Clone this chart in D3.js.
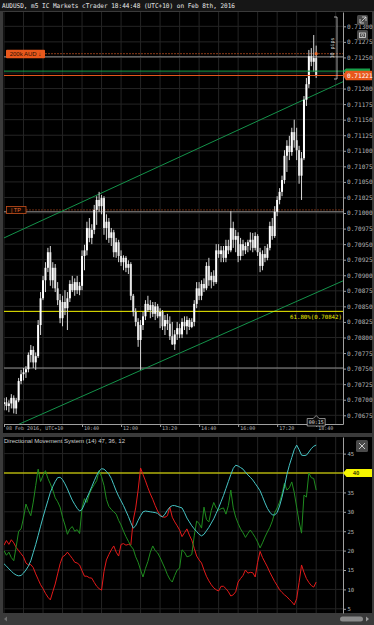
<!DOCTYPE html>
<html>
<head>
<meta charset="utf-8">
<script src="https://cdnjs.cloudflare.com/ajax/libs/d3/7.8.5/d3.min.js"></script>
<style>
  body { margin: 0; background: #3a3a3a; }
  svg { display: block; }
  .mono { font-family: "DejaVu Sans Mono", monospace; }
  .sans { font-family: "Liberation Sans", Arial, sans-serif; }
</style>
</head>
<body>
<script>
// AUDUSD m5 candles, prices in points (1e-5)
var candleOpen = [70693,70696,70690,70694,70703,70686,70699,70730,70741,70744,
  70749,70772,70780,70760,70770,70820,70863,70892,70912,70937,
  70892,70912,70879,70860,70831,70857,70847,70863,70886,70876,
  70889,70876,70883,70931,70940,70976,70960,70973,71005,71021,
  71011,71024,70976,70986,70960,70969,70937,70953,70931,70921,
  70928,70912,70918,70867,70841,70825,70796,70820,70834,70854,
  70844,70852,70838,70850,70834,70841,70818,70828,
  70822,70802,70789,70805,70815,70805,70825,70818,70828,70817,70825,70854,70879,70867,70886,
  70879,70915,70892,70899,70889,70940,70934,70940,70928,70947,
  70940,70976,70957,70963,70931,70950,70940,70947,70953,70957,
  70944,70963,70937,70915,70934,70928,70944,70979,70963,71002,
  71021,71034,71053,71092,71108,71098,71130,71117,71101,71060,
  71088,71182,71207,71252,71243,71249];
var candleHigh = [70703,70704,70699,70709,70707,70703,70735,70748,70751,70754,
  70776,70788,70786,70776,70828,70873,70899,70921,70944,70947,
  70921,70918,70889,70870,70867,70876,70873,70892,70899,70895,
  70899,70889,70940,70949,70986,70992,70982,71013,71027,71034,
  71029,71027,70998,70992,70976,70973,70960,70957,70940,70932,
  70931,70924,70921,70870,70847,70831,70828,70841,70860,70867,
  70860,70857,70857,70854,70847,70844,70836,70838,
  70834,70825,70812,70825,70822,70831,70834,70834,70831,70831,70860,70889,70889,70892,70895,
  70921,70928,70905,70908,70950,70950,70947,70947,70957,70957,
  71003,70986,70973,70969,70960,70957,70953,70957,70969,70968,
  70969,70966,70944,70940,70947,70950,70986,70992,71011,71027,
  71040,71060,71101,71117,71124,71137,71150,71137,71108,71098,
  71188,71217,71262,71265,71286,71269];
var candleLow = [70683,70683,70680,70686,70678,70677,70696,70725,70731,70735,
  70744,70760,70751,70748,70767,70804,70860,70873,70905,70883,
  70879,70873,70852,70823,70818,70836,70812,70857,70873,70867,
  70870,70868,70876,70908,70932,70953,70950,70966,70981,71002,
  70998,70965,70957,70952,70947,70929,70928,70921,70915,70908,
  70905,70902,70860,70834,70818,70785,70748,70812,70828,70841,
  70831,70833,70828,70831,70815,70812,70804,70812,
  70796,70788,70780,70796,70799,70799,70812,70805,70812,70815,70818,70847,70860,70860,70873,
  70876,70883,70879,70883,70886,70928,70921,70921,70921,70934,
  70937,70944,70937,70921,70924,70931,70934,70937,70940,70937,
  70940,70931,70905,70908,70921,70924,70940,70957,70960,70995,
  71014,71027,71047,71066,71085,71092,71105,71085,71047,71021,
  71085,71172,71201,71236,71227,71217];
var candleClose = [70696,70690,70694,70703,70686,70699,70730,70741,70744,70749,
  70772,70780,70760,70770,70820,70863,70892,70912,70937,70892,
  70912,70879,70860,70831,70857,70847,70863,70886,70876,70889,
  70876,70883,70931,70940,70976,70960,70973,71005,71021,71011,
  71024,70976,70986,70960,70969,70937,70953,70931,70921,70928,
  70912,70918,70867,70841,70825,70796,70820,70834,70854,70844,
  70852,70838,70850,70834,70841,70818,70828,70822,
  70802,70789,70805,70815,70805,70825,70818,70828,70817,70825,70854,70879,70867,70886,70879,
  70915,70892,70899,70889,70940,70934,70940,70928,70947,70940,
  70976,70957,70963,70931,70950,70940,70947,70953,70957,70944,
  70963,70937,70915,70934,70928,70944,70979,70963,71002,71021,
  71034,71053,71092,71108,71098,71130,71117,71101,71060,71088,
  71182,71207,71252,71243,71249,71221];

// Directional Movement System (14)
var adx = [16.6,16.0,15.3,14.7,14.1,13.7,13.5,13.6,14.2,15.0,
  16.0,17.4,19.5,21.6,23.9,26.3,28.6,30.8,32.9,35.0,
  36.5,37.8,38.8,38.9,38.3,37.2,35.9,34.4,33.0,31.9,
  30.9,30.2,30.6,32.0,33.6,35.0,36.5,38.0,39.4,40.5,
  41.1,41.0,40.4,39.7,38.6,37.0,35.4,34.0,32.8,31.6,
  30.2,28.8,27.2,25.8,26.4,27.8,29.0,30.0,30.2,30.1,
  30.0,29.9,29.8,29.6,29.0,28.7,29.4,30.4,31.2,31.6,
  31.6,31.4,31.2,31.0,29.8,28.4,27.4,26.4,25.6,24.9,
  24.2,23.8,24.2,25.1,26.0,27.1,28.2,29.6,31.0,32.6,
  34.2,36.0,37.8,39.6,41.2,42.0,41.8,41.4,41.0,40.2,
  39.5,38.9,38.2,37.3,36.4,35.4,33.9,32.3,30.9,29.9,
  29.2,29.2,29.8,31.5,33.8,36.5,39.6,42.0,44.0,46.0,
  47.2,46.0,44.6,44.5,44.6,45.4,46.3,46.9,47.2];
var plusDI = [20.0,18.8,19.6,18.2,17.4,21.0,25.0,25.6,28.4,32.0,
  30.4,29.0,32.5,36.8,41.0,37.8,39.4,40.6,38.6,37.2,
  35.6,33.6,32.6,31.2,28.6,26.6,24.2,25.6,26.2,25.0,
  25.4,24.4,31.0,33.4,32.4,34.6,36.0,37.0,38.0,40.6,
  39.0,36.8,33.2,31.4,30.6,30.0,29.4,27.8,26.6,25.0,
  23.6,22.4,21.2,20.4,18.4,17.0,15.0,13.2,15.4,17.2,
  19.6,21.2,20.0,19.4,18.2,16.8,15.4,13.8,12.6,11.9,
  13.6,15.0,15.5,20.2,19.6,18.4,18.6,19.0,23.8,27.6,
  27.0,25.8,31.2,28.0,27.4,30.4,32.4,31.0,30.4,30.8,
  31.0,29.4,31.6,35.6,31.0,28.6,27.0,25.6,24.6,23.4,
  24.4,25.3,24.4,23.4,22.2,20.7,22.0,23.5,24.8,26.0,
  27.6,29.8,31.0,32.5,34.6,37.4,35.6,36.2,37.7,35.0,
  31.2,27.4,24.5,34.3,33.8,40.0,38.8,38.6,35.6];
var minusDI = [21.4,22.6,21.6,22.8,22.0,20.8,20.0,19.2,18.4,16.8,
  16.3,16.4,15.6,14.0,12.6,11.2,10.2,9.0,8.0,7.3,
  9.4,11.4,14.0,16.6,18.4,18.8,19.6,18.8,18.0,17.0,
  16.8,16.3,14.8,13.4,13.4,13.0,12.9,11.8,10.8,10.2,
  9.8,14.6,17.6,19.0,20.2,21.2,19.6,18.6,21.6,21.8,
  21.4,21.6,21.4,27.9,31.0,35.6,41.3,39.6,38.0,36.2,
  34.6,33.2,31.6,30.2,29.2,28.7,28.6,29.0,31.2,28.6,
  27.4,26.4,25.3,23.6,24.6,25.6,24.0,22.7,20.6,18.6,
  17.6,16.8,15.0,13.4,12.2,11.2,10.4,9.9,9.6,10.8,
  10.8,10.2,9.4,8.3,8.6,9.4,11.9,12.8,13.6,15.0,
  14.2,14.4,14.3,13.2,17.0,19.8,18.2,17.0,15.8,14.4,
  13.2,12.0,11.0,9.9,9.2,8.6,8.1,7.4,6.8,6.0,
  7.6,11.8,16.3,14.4,12.8,11.8,11.0,10.6,11.9];

var timeTicks = ["08:00","10:40","12:00","13:20","14:40","16:00","17:20","18:40"];
var timeTickLabels = ["08 Feb 2016, UTC+10","10:40","12:00","13:20","14:40","16:00","17:20","18:40"];
var priceTicks = [0.70675,0.70700,0.70725,0.70750,0.70775,0.70800,0.70825,0.70850,0.70875,0.70900,
  0.70925,0.70950,0.70975,0.71000,0.71025,0.71050,0.71075,0.71100,0.71125,0.71150,
  0.71175,0.71200,0.71225,0.71250,0.71275,0.71300];
var dmiTicks = [5,10,15,20,25,30,35,40,45];

var bidPrice = 0.71221, askPrice = 0.71228;
var orderPrice = 0.71256, entryPrice = 0.71251;
var tpPrice = 0.71005, tpLine = 0.71002;
var hLine = 0.70751;
var fibPrice = 0.70842, fibLabel = "61.80%(0.70842)";
var dmiLevel = 40;
// trend channel, [time, price]
var channelUpper = [["08:00", 0.70960], ["19:35", 0.71211]];
var channelLower = [["08:00", 0.70650], ["19:35", 0.70891]];

var W = 374, H = 625;
var parseT = d3.timeParse("%Y-%m-%d %H:%M");
function tm(s) { return parseT("2016-02-08 " + s); }
var t0 = tm("08:00");

var candles = candleOpen.map(function(o, i) {
  return { t: d3.timeMinute.offset(t0, 5 * i), o: o / 1e5, h: candleHigh[i] / 1e5,
           l: candleLow[i] / 1e5, c: candleClose[i] / 1e5,
           adx: adx[i], pdi: plusDI[i], mdi: minusDI[i] };
});

var x = d3.scaleTime().domain([t0, tm("19:35")]).range([4, 343]);
var y = d3.scaleLinear().domain([0.70661, 0.71323]).range([424, 12]);
var yd = d3.scaleLinear().domain([3.92, 49.28]).range([613, 437]);

var svg = d3.select("body").append("svg").attr("width", W).attr("height", H);

// frame
svg.append("rect").attr("width", W).attr("height", H).attr("fill", "#3a3a3a");
svg.append("rect").attr("width", W).attr("height", 11).attr("fill", "#161616");
svg.append("rect").attr("x", 3).attr("y", 12).attr("width", 369).attr("height", 421).attr("fill", "#000");
svg.append("rect").attr("x", 3).attr("y", 437).attr("width", 369).attr("height", 176).attr("fill", "#000");

svg.append("text").attr("class", "mono").attr("x", 2).attr("y", 8.3)
  .attr("font-size", "6.4px").attr("fill", "#e6e6e6")
  .attr("textLength", 233).attr("lengthAdjust", "spacingAndGlyphs")
  .text("AUDUSD, m5 IC Markets cTrader 18:44:48 (UTC+10) on Feb 8th, 2016");

var defs = svg.append("defs");
defs.append("clipPath").attr("id", "clipMain").append("rect")
  .attr("x", 4).attr("y", 12).attr("width", 339).attr("height", 412);
defs.append("clipPath").attr("id", "clipDmi").append("rect")
  .attr("x", 4).attr("y", 437).attr("width", 339).attr("height", 176);

var gridTimes = d3.range(0, 700, 40).map(function(m) { return d3.timeMinute.offset(t0, m); })
  .filter(function(d) { return x(d) <= 343; });
var gridColor = "#242424";

// main grid
var grid = svg.append("g");
grid.selectAll("line.v").data(gridTimes).join("line")
  .attr("x1", function(d) { return x(d); }).attr("x2", function(d) { return x(d); })
  .attr("y1", 12).attr("y2", 424).attr("stroke", gridColor);
grid.selectAll("line.h").data(priceTicks).join("line")
  .attr("x1", 4).attr("x2", 343)
  .attr("y1", function(d) { return y(d); }).attr("y2", function(d) { return y(d); })
  .attr("stroke", gridColor);

// dmi grid
var gridD = svg.append("g");
gridD.selectAll("line.v").data(gridTimes).join("line")
  .attr("x1", function(d) { return x(d); }).attr("x2", function(d) { return x(d); })
  .attr("y1", 437).attr("y2", 613).attr("stroke", gridColor);
gridD.selectAll("line.h").data(dmiTicks).join("line")
  .attr("x1", 4).attr("x2", 343)
  .attr("y1", function(d) { return yd(d); }).attr("y2", function(d) { return yd(d); })
  .attr("stroke", gridColor);

var plot = svg.append("g").attr("clip-path", "url(#clipMain)");

// horizontal levels
function hline(p, color, dash, x1) {
  plot.append("line").attr("x1", x1 || 4).attr("x2", 343)
    .attr("y1", y(p)).attr("y2", y(p))
    .attr("stroke", color).attr("stroke-width", 1)
    .attr("stroke-dasharray", dash || null);
}
hline(entryPrice, "#8c8c8c");
hline(orderPrice, "#8a3a18", "2,1", 45);
hline(tpLine, "#8c8c8c");
hline(tpPrice, "#6e2c12", "2,1", 26);
hline(hLine, "#8c8c8c");

// channel
var chLine = d3.line().x(function(d) { return x(tm(d[0])); }).y(function(d) { return y(d[1]); });
[channelUpper, channelLower].forEach(function(c) {
  plot.append("path").attr("d", chLine(c)).attr("fill", "none")
    .attr("stroke", "#14924a").attr("stroke-width", 1);
});

hline(fibPrice, "#f5f500");

// candles
plot.selectAll("line.wick").data(candles).join("line")
  .attr("x1", function(d) { return x(d.t); }).attr("x2", function(d) { return x(d.t); })
  .attr("y1", function(d) { return y(d.h); }).attr("y2", function(d) { return y(d.l); })
  .attr("stroke", "#d8d8d8").attr("stroke-width", 1);
plot.selectAll("rect.body").data(candles).join("rect")
  .attr("x", function(d) { return x(d.t) - 1; }).attr("width", 2)
  .attr("y", function(d) { return y(Math.max(d.o, d.c)); })
  .attr("height", function(d) { return Math.max(1, Math.abs(y(d.o) - y(d.c))); })
  .attr("fill", function(d) { return d.c >= d.o ? "#ffffff" : "#e4e4e4"; });

hline(askPrice, "#17a04a");
hline(bidPrice, "#e8581c");
plot.append("circle").attr("cx", x(candles[candles.length - 1].t)).attr("cy", y(orderPrice))
  .attr("r", 1.6).attr("fill", "#f07030");

svg.append("text").attr("class", "mono").attr("x", 342).attr("y", y(fibPrice) + 7.5)
  .attr("text-anchor", "end").attr("font-size", "5.8px").attr("fill", "#f0f000")
  .attr("textLength", 52).attr("lengthAdjust", "spacingAndGlyphs").text(fibLabel);

// order label
svg.append("rect").attr("x", 6).attr("y", y(orderPrice) - 4).attr("width", 39).attr("height", 8.5)
  .attr("rx", 1).attr("fill", "#e8581c");
svg.append("text").attr("class", "sans").attr("x", 25.5).attr("y", y(orderPrice) + 2.3)
  .attr("text-anchor", "middle").attr("font-size", "6px").attr("fill", "#2a0e00")
  .text("200k AUD \u2193");

// TP label
svg.append("rect").attr("x", 6.5).attr("y", y(tpPrice) - 3.5).attr("width", 19.5).attr("height", 7)
  .attr("fill", "#140600").attr("stroke", "#c8501c").attr("stroke-width", 0.8);
svg.append("text").attr("class", "sans").attr("x", 16).attr("y", y(tpPrice) + 2.2)
  .attr("text-anchor", "middle").attr("font-size", "5.6px").attr("fill", "#e06a30")
  .text("| TP");

// 10 pips ruler
svg.append("path").attr("d", "M334,17H337V79H334").attr("fill", "none")
  .attr("stroke", "#cfcfcf").attr("stroke-width", 0.8);
svg.append("text").attr("class", "mono").attr("transform", "translate(334,48) rotate(-90)")
  .attr("text-anchor", "middle").attr("font-size", "5px").attr("fill", "#d0d0d0").text("10 pips");

// price axis (label under the bid tag is hidden, as in cTrader)
var fmt5 = d3.format(".5f");
var yAxis = svg.append("g").attr("transform", "translate(343,0)")
  .call(d3.axisRight(y).tickValues(priceTicks)
    .tickFormat(function(d) { return Math.abs(y(d) - y(bidPrice)) < 6 ? "" : fmt5(d); })
    .tickSize(3).tickSizeOuter(0).tickPadding(1));
yAxis.select(".domain").attr("stroke", "#a0a0a0");
yAxis.selectAll(".tick line").attr("stroke", "#a0a0a0");
yAxis.selectAll("text").attr("class", "mono").attr("font-size", "6.1px").attr("fill", "#b4b4b4")
  .attr("font-family", null);

// bid/ask labels
svg.append("path").attr("d", "M343,71L346,68.5H370V73.5H346Z").attr("fill", "#17a04a");
svg.append("path").attr("d", "M343,75.5L346,70.8H372V80.2H346Z").attr("fill", "#e8581c");
svg.append("text").attr("class", "mono").attr("x", 347).attr("y", 77.6)
  .attr("font-size", "6.1px").attr("fill", "#fff").text(fmt5(bidPrice));

// time axis
var xAxis = svg.append("g").attr("transform", "translate(0,424)")
  .call(d3.axisBottom(x).tickValues(timeTicks.map(tm))
    .tickFormat(function(d, i) { return timeTickLabels[i]; })
    .tickSize(3).tickSizeOuter(0).tickPadding(1));
xAxis.select(".domain").attr("stroke", "#a0a0a0");
xAxis.selectAll(".tick line").attr("stroke", "#a0a0a0");
xAxis.selectAll("text").attr("class", "mono").attr("font-family", null)
  .attr("font-size", "5px").attr("fill", "#b4b4b4")
  .attr("text-anchor", "start").attr("x", 1.5).attr("dy", "0.45em");

// countdown box
var lastX = x(candles[candles.length - 1].t);
svg.append("path").attr("d", "M" + (lastX - 9) + ",418.5H" + (lastX - 3) + "L" + lastX + ",415.5L" +
  (lastX + 3) + ",418.5H" + (lastX + 9) + "V426H" + (lastX - 9) + "Z")
  .attr("fill", "#0c0c0c").attr("stroke", "#bdbdbd").attr("stroke-width", 0.7);
svg.append("text").attr("class", "mono").attr("x", lastX).attr("y", 424.3)
  .attr("text-anchor", "middle").attr("font-size", "5px").attr("fill", "#dcdcdc").text("00:15");

// chart buttons
[15, 30].forEach(function(by) {
  svg.append("rect").attr("x", 357).attr("y", by).attr("width", 11).attr("height", 10)
    .attr("rx", 1.5).attr("fill", "#4a4a4a");
});
svg.append("path").attr("d", "M360,19V23H364M362,17H366V21M366,17L361.5,21.5")
  .attr("fill", "none").attr("stroke", "#ddd").attr("stroke-width", 0.8);
svg.append("rect").attr("x", 359.5).attr("y", 33).attr("width", 6).attr("height", 4.5)
  .attr("fill", "none").attr("stroke", "#ddd").attr("stroke-width", 0.8);
svg.append("circle").attr("cx", 362.5).attr("cy", 35.2).attr("r", 1.2)
  .attr("fill", "none").attr("stroke", "#ddd").attr("stroke-width", 0.6);

// DMI panel
var dmi = svg.append("g").attr("clip-path", "url(#clipDmi)");
dmi.append("line").attr("x1", 4).attr("x2", 343).attr("y1", yd(dmiLevel)).attr("y2", yd(dmiLevel))
  .attr("stroke", "#f5f500").attr("stroke-width", 1.2);
var series = [["mdi", "#e41a1a"], ["pdi", "#1f8c1f"], ["adx", "#46c4c4"]];
series.forEach(function(s) {
  var ln = d3.line().x(function(d) { return x(d.t); }).y(function(d) { return yd(d[s[0]]); });
  dmi.append("path").datum(candles).attr("d", ln).attr("fill", "none")
    .attr("stroke", s[1]).attr("stroke-width", 1);
});

svg.append("text").attr("class", "sans").attr("x", 4).attr("y", 442.8)
  .attr("font-size", "6px").attr("fill", "#cfcfcf")
  .attr("textLength", 121).attr("lengthAdjust", "spacingAndGlyphs")
  .text("Directional Movement System (14) " + adx[adx.length - 1].toFixed(0) + ", " +
    plusDI[plusDI.length - 1].toFixed(0) + ", " + minusDI[minusDI.length - 1].toFixed(0));

var dAxis = svg.append("g").attr("transform", "translate(343,0)")
  .call(d3.axisRight(yd).tickValues(dmiTicks)
    .tickFormat(function(d) { return d === dmiLevel ? "" : d; })
    .tickSize(3).tickSizeOuter(0).tickPadding(1.5));
dAxis.select(".domain").attr("stroke", "#a0a0a0");
dAxis.selectAll(".tick line").attr("stroke", "#a0a0a0");
dAxis.selectAll("text").attr("class", "mono").attr("font-family", null)
  .attr("font-size", "5.6px").attr("fill", "#b4b4b4");

var ly = yd(dmiLevel);
svg.append("path").attr("d", "M343," + ly + "L346.5," + (ly - 4) + "H372V" + (ly + 4) + "H346.5Z")
  .attr("fill", "#f5f500");
svg.append("text").attr("class", "mono").attr("x", 356).attr("y", ly + 2)
  .attr("text-anchor", "middle").attr("font-size", "5.6px").attr("fill", "#000").text(dmiLevel);

// close button
svg.append("rect").attr("x", 356).attr("y", 440).attr("width", 12).attr("height", 12)
  .attr("rx", 1.5).attr("fill", "#4a4a4a");
svg.append("path").attr("d", "M359,443L365,449M365,443L359,449")
  .attr("stroke", "#ccc").attr("stroke-width", 1);

// scrollbar
svg.append("path").attr("d", "M7,616.5L4,619L7,621.5Z").attr("fill", "#707070");
svg.append("rect").attr("x", 340).attr("y", 616.5).attr("width", 23).attr("height", 5)
  .attr("rx", 2.5).attr("fill", "#8a8a8a");
svg.append("path").attr("d", "M366,616.5L369,619L366,621.5Z").attr("fill", "#9a9a9a");
</script>
</body>
</html>
